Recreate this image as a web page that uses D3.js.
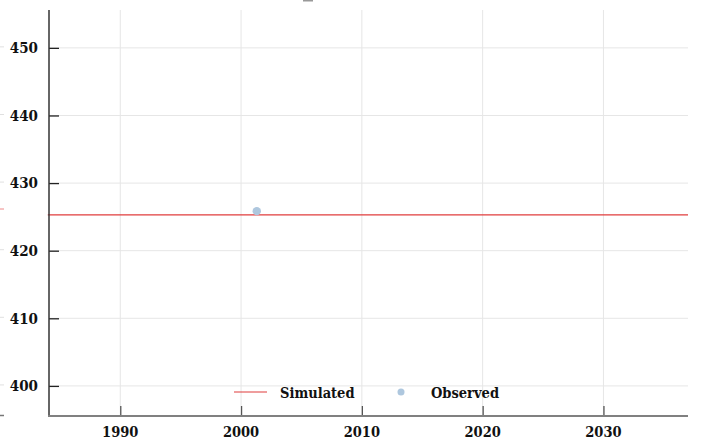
<!DOCTYPE html>
<html>
<head>
<meta charset="utf-8">
<script src="https://cdn.jsdelivr.net/npm/d3@7"></script>
<style>
  html, body { margin: 0; padding: 0; background: #fff; }
  svg { display: block; }
  text { font-family: "DejaVu Serif Condensed", "DejaVu Serif", serif; font-weight: bold; fill: #111; }
</style>
</head>
<body>
<svg id="chart" width="701" height="448"></svg>
<script>
// ---- data ----
const xTicks = [1990, 2000, 2010, 2020, 2030];
const yTicks = [400, 410, 420, 430, 440, 450];
const simulatedYears = [1984, 2037];
const simulatedValues = [425.3, 425.3];
const observedYears = [2001.3];
const observedValues = [425.85];
const legendLabels = ["Simulated", "Observed"];

(function () {
// ---- layout ----
const mLeft = 49, mRight = 688, mTop = 10, mBottom = 416;
const svg = d3.select("#chart");

const x = d3.scaleLinear().domain([1984.1, 2037.0]).range([mLeft, mRight]);
const y = d3.scaleLinear().domain([395.55, 455.6]).range([mBottom, mTop]);

// grid
svg.append("g").selectAll("line").data(xTicks).join("line")
  .attr("x1", d => x(d)).attr("x2", d => x(d))
  .attr("y1", mTop).attr("y2", mBottom)
  .attr("stroke", "#e6e6e6").attr("stroke-width", 1);
svg.append("g").selectAll("line").data(yTicks).join("line")
  .attr("x1", mLeft).attr("x2", mRight)
  .attr("y1", d => y(d)).attr("y2", d => y(d))
  .attr("stroke", "#e6e6e6").attr("stroke-width", 1);

// neighbouring-panel fragments at left edge
svg.append("g").selectAll("line").data(yTicks).join("line")
  .attr("x1", 0).attr("x2", 4)
  .attr("y1", d => y(d) - 1).attr("y2", d => y(d) - 1)
  .attr("stroke", "#e0e0e0");
svg.append("line").attr("x1", 0).attr("x2", 4)
  .attr("y1", 209).attr("y2", 209).attr("stroke", "#e88").attr("stroke-width", 1);
svg.append("line").attr("x1", 0).attr("x2", 4)
  .attr("y1", 415.5).attr("y2", 415.5).attr("stroke", "#777").attr("stroke-width", 1.5);
svg.append("rect").attr("x", 303).attr("y", 0).attr("width", 10).attr("height", 1.5).attr("fill", "#999");

// simulated line
svg.append("path")
  .datum(simulatedYears.map((d, i) => [d, simulatedValues[i]]))
  .attr("d", d3.line().x(d => x(d[0])).y(d => y(d[1])))
  .attr("fill", "none").attr("stroke", "#e03c3c").attr("stroke-width", 1.1);

// observed points
svg.append("g").selectAll("circle").data(observedYears.map((d, i) => [d, observedValues[i]])).join("circle")
  .attr("cx", d => x(d[0])).attr("cy", d => y(d[1])).attr("r", 4.2)
  .attr("fill", "#aec7de");

// y axis
const yAxis = d3.axisRight(y).tickValues(yTicks).tickSize(10).tickFormat("");
const gy = svg.append("g").attr("transform", `translate(${mLeft},0)`).call(yAxis);
gy.select(".domain").remove();
gy.selectAll(".tick line").attr("stroke", "#222").attr("stroke-width", 1.3);
svg.append("line").attr("x1", mLeft).attr("x2", mLeft).attr("y1", mTop).attr("y2", mBottom)
  .attr("stroke", "#333").attr("stroke-width", 1.5);
svg.append("g").selectAll("text").data(yTicks).join("text")
  .attr("x", 38).attr("y", d => y(d)).attr("dy", "0.36em")
  .attr("text-anchor", "end").attr("font-size", 15).text(d => d);

// x axis
const xAxis = d3.axisTop(x).tickValues(xTicks).tickSize(10).tickFormat("");
const gx = svg.append("g").attr("transform", `translate(0,${mBottom})`).call(xAxis);
gx.select(".domain").remove();
gx.selectAll(".tick line").attr("stroke", "#555").attr("stroke-width", 1.3);
svg.append("line").attr("x1", mLeft - 1).attr("x2", mRight).attr("y1", mBottom).attr("y2", mBottom)
  .attr("stroke", "#808080").attr("stroke-width", 2);
svg.append("g").selectAll("text").data(xTicks).join("text")
  .attr("x", d => x(d)).attr("y", 436.5)
  .attr("text-anchor", "middle").attr("font-size", 14.5).text(d => d);

// legend
const lg = svg.append("g");
lg.append("line").attr("x1", 234).attr("x2", 267).attr("y1", 392).attr("y2", 392)
  .attr("stroke", "#e03c3c").attr("stroke-width", 1.1);
lg.append("text").attr("x", 280).attr("y", 397.5).attr("font-size", 14.5).text(legendLabels[0]);
lg.append("circle").attr("cx", 401).attr("cy", 392).attr("r", 3.5).attr("fill", "#aec7de");
lg.append("text").attr("x", 431).attr("y", 397.5).attr("font-size", 14.5).text(legendLabels[1]);
})();
</script>
</body>
</html>
